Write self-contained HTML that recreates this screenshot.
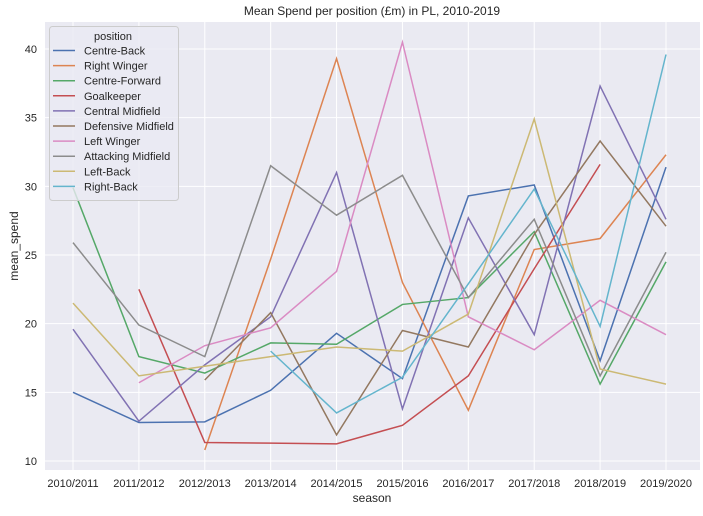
<!DOCTYPE html>
<html><head><meta charset="utf-8"><style>
body{margin:0;background:#fff;font-family:"Liberation Sans",sans-serif}
svg text{font-family:"Liberation Sans",sans-serif;fill:#262626}
</style></head><body>
<svg id="c" width="703" height="511"></svg>
<script>
const categories=["2010/2011","2011/2012","2012/2013","2013/2014","2014/2015","2015/2016","2016/2017","2017/2018","2018/2019","2019/2020"];
const seriesNames=["Centre-Back","Right Winger","Centre-Forward","Goalkeeper","Central Midfield","Defensive Midfield","Left Winger","Attacking Midfield","Left-Back","Right-Back"];
const colors=["#4c72b0","#dd8452","#55a868","#c44e52","#8172b3","#937860","#da8bc3","#8c8c8c","#ccb974","#64b5cd"];
const centreBack=[15.0,12.8,12.85,15.15,19.3,16.0,29.3,30.1,17.3,31.4];
const rightWinger=[null,null,10.8,24.7,39.3,23.0,13.7,25.4,26.2,32.3];
const centreForward=[29.9,17.6,16.4,18.6,18.5,21.4,21.9,26.7,15.6,24.5];
const goalkeeper=[null,22.5,11.35,11.3,11.25,12.6,16.2,24.0,31.6,null];
const centralMidfield=[19.6,12.9,17.0,20.5,31.0,13.8,27.7,19.2,37.3,27.6];
const defensiveMidfield=[null,null,15.9,20.8,11.9,19.5,18.3,26.5,33.3,27.1];
const leftWinger=[null,15.7,18.4,19.7,23.8,40.5,20.5,18.1,21.7,19.2];
const attackingMidfield=[25.9,19.9,17.6,31.5,27.9,30.8,21.9,27.6,16.2,25.2];
const leftBack=[21.5,16.2,16.9,17.6,18.3,18.0,20.7,34.9,16.7,15.6];
const rightBack=[null,null,null,18.0,13.5,16.1,22.9,29.8,19.8,39.6];
const yTicks=[10,15,20,25,30,35,40];
const allSeries=[centreBack,rightWinger,centreForward,goalkeeper,centralMidfield,defensiveMidfield,leftWinger,attackingMidfield,leftBack,rightBack];

const NS="http://www.w3.org/2000/svg";
const svg=document.getElementById('c');
const L=45,R=700,T=22,B=470;
const x=i=>73+i*(666-73)/(categories.length-1);
const y=v=>461-(v-10)*(461-49)/30;
function mk(t,a,p){const e=document.createElementNS(NS,t);for(const k in a)e.setAttribute(k,a[k]);(p||svg).appendChild(e);return e;}
let bg=mk('rect',{x:L,y:T,width:R-L,height:B-T,fill:'#eaeaf2'});


yTicks.forEach(v=>{
 let g=mk('line',{x1:L,x2:R,y1:y(v),y2:y(v),stroke:'#fff','stroke-width':1});
 
 
 let t=mk('text',{x:L-8,y:y(v)+4,'text-anchor':'end','font-size':11});
 t.textContent=v;
 
 
});
categories.forEach((c,i)=>{
 let g=mk('line',{x1:x(i),x2:x(i),y1:T,y2:B,stroke:'#fff','stroke-width':1});
 
 
 let t=mk('text',{x:x(i),y:B+17,'text-anchor':'middle','font-size':11});
 t.textContent=c;
 
 
});
allSeries.forEach((s,k)=>{
 let d='',pen=false;
 s.forEach((v,i)=>{if(v==null){pen=false;return;}d+=(pen?'L':'M')+x(i)+' '+y(v)+' ';pen=true;});
 let p=mk('path',{d:d,fill:'none',stroke:colors[k],'stroke-width':1.5});
 
 
});
// legend
let lg=mk('g',{});


let lb=mk('rect',{x:49.5,y:26.5,width:129,height:174,rx:3,fill:'#eaeaf2','fill-opacity':0.8,stroke:'#cccccc'},lg);
let lt=mk('text',{x:113,y:40,'text-anchor':'middle','font-size':11},lg);
lt.textContent='position';


seriesNames.forEach((n,k)=>{
 const yy=50.5+k*15.1;
 let g=mk('g',{},lg);
 
 
 mk('line',{x1:53,x2:75,y1:yy,y2:yy,stroke:colors[k],'stroke-width':1.5},g);
 let t=mk('text',{x:84,y:yy+4,'font-size':11},g);
 t.textContent=n;
});
let ti=mk('text',{x:372,y:15,'text-anchor':'middle','font-size':12});
ti.textContent='Mean Spend per position (£m) in PL, 2010-2019';


let xl=mk('text',{x:372,y:502,'text-anchor':'middle','font-size':12});
xl.textContent='season';


let yl=mk('text',{x:18,y:246,'text-anchor':'middle','font-size':12,transform:'rotate(-90 18 246)'});
yl.textContent='mean_spend';


</script>
</body></html>
